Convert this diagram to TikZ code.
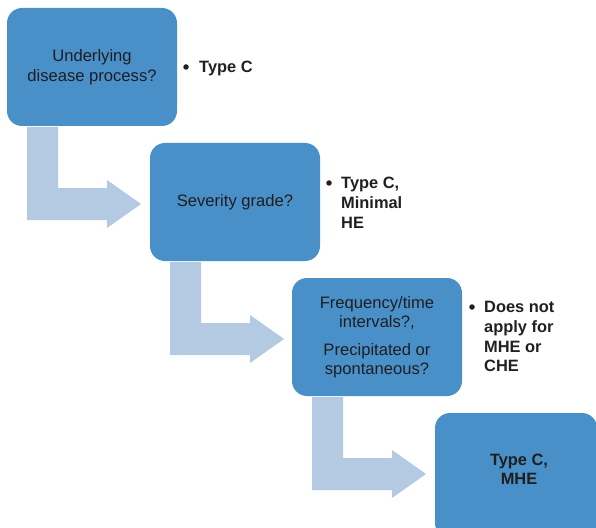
\documentclass[tikz,border=0pt]{standalone}
\usepackage{fontspec}
\setmainfont{Liberation Sans}
\usetikzlibrary{calc}
\definecolor{boxblue}{RGB}{74,144,200}
\definecolor{arrowblue}{RGB}{180,202,227}
\definecolor{boxtext}{RGB}{30,30,34}
\definecolor{sidetext}{RGB}{35,31,32}
\tikzset{
  stagebox/.style={fill=boxblue, rounded corners=15bp, minimum width=170bp, minimum height=118bp,
    inner sep=0pt, outer sep=0pt, align=center, text=boxtext,
    font=\fontsize{16.6bp}{19.5bp}\selectfont, anchor=north west},
  sidenote/.style={anchor=north west, align=left, text=sidetext, inner sep=0pt,
    font=\fontsize{16.4bp}{19.8bp}\selectfont\bfseries},
  bullet/.style={circle, fill=sidetext, minimum size=5.5bp, inner sep=0pt},
  arrowfill/.style={fill=arrowblue}
}
\newcommand\bentarrow[1]{%
  \begin{scope}[shift={(#1.south west)}]
    \fill[arrowfill] (20,1) -- (51,1) -- (51,62) -- (100,62) -- (100,54) -- (134,78)
      -- (100,102) -- (100,94) -- (20,94) -- cycle;
  \end{scope}}
\begin{document}
\begin{tikzpicture}[x=1bp,y=-1bp]
\clip (0,0) rectangle (596,528);
\fill[white] (0,0) rectangle (596,528);
\node[stagebox] (b1) at (7,8) {Underlying\\disease process?};
\node[stagebox] (b2) at (150,143) {Severity grade?};
\node[stagebox] (b3) at (292,278) {Frequency/time\\intervals?,\\[8bp]Precipitated or\\spontaneous?};
\node[stagebox, minimum width=162bp, minimum height=125bp] (b4) at (435,413) {};
\node[align=center, inner sep=0pt, text=boxtext, font=\fontsize{16.4bp}{19.5bp}\selectfont\bfseries] (b4t) at (519,469.5) {Type C,\\MHE};
\bentarrow{b1}
\bentarrow{b2}
\bentarrow{b3}
\node[bullet] (d1) at (186,67) {};
\node[sidenote] (t1) at (199,61) {Type C};
\node[bullet] (d2) at (329,183) {};
\node[sidenote] (t2) at (341,177) {Type C,\\Minimal\\HE};
\node[bullet] (d3) at (472,307) {};
\node[sidenote] (t3) at (484,301) {Does not\\apply for\\MHE or\\CHE};
\end{tikzpicture}
\end{document}
